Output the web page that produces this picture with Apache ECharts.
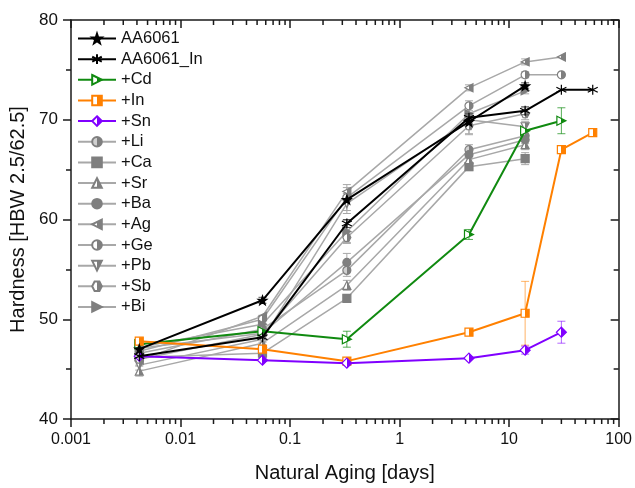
<!DOCTYPE html>
<html><head><meta charset="utf-8">
<script src="https://cdn.jsdelivr.net/npm/echarts@6/dist/echarts.min.js"></script>
<style>html,body{margin:0;padding:0;background:#fff}#c{width:635px;height:488px}</style>
</head><body><div id="c"></div>
<script>
// ---- data ----
const days = [0.0042, 0.056, 0.33, 4.3, 14, 30, 58];
const seriesNames = ['AA6061','AA6061_In','+Cd','+In','+Sn','+Li','+Ca','+Sr','+Ba','+Ag','+Ge','+Pb','+Sb','+Bi'];
const vAA6061   = [47.0, 51.9, 62.0, 69.8, 73.4, null, null];
const vAA6061In = [46.3, 48.2, 59.6, 70.2, 70.9, 73.0, 73.0];
const vCd = [47.5, 48.8, 48.0, 58.5, 68.9, 69.9, null];
const vIn = [47.8, 47.0, 45.8, 48.7, 50.6, 67.0, 68.7];
const vSn = [46.3, 45.9, 45.6, 46.1, 46.9, 48.7, null];
const vLi = [46.6, 49.0, 54.9, 67.0, 68.4];
const vCa = [46.2, 46.6, 52.1, 65.3, 66.1];
const vSr = [44.8, 47.6, 53.4, 66.0, 67.5];
const vBa = [47.1, 48.6, 55.7, 66.5, 68.0];
const vAg = [45.9, 50.3, 62.8, 73.2, 75.8, 76.3];
const vGe = [46.8, 50.0, 62.2, 71.4, 74.5, 74.5];
const vPb = [45.4, 48.0, 61.6, 70.0, 69.3];
const vSb = [46.0, 48.5, 58.2, 69.4, 70.6];
const vBi = [47.2, 49.5, 58.8, 70.6, 72.9];
// error bar half-widths (0 = none)
const eAA6061   = [0, 0.3, 0, 0, 0.3];
const eAA6061In = [0, 0, 0.4, 0.4, 0.4, 0, 0];
const eCd = [0, 0, 0.8, 0.5, 0, 1.3];
const eIn = [0, 0, 0, 0, 3.2, 0, 0];
const eSn = [0, 0, 0, 0, 0.4, 1.1];
const eLi = [0.3, 0.4, 0.6, 0.5, 0.5];
const eCa = [0.3, 0.4, 0.3, 0.4, 0.6];
const eSr = [0.5, 0.4, 0.5, 0.4, 0.5];
const eBa = [0.4, 0.3, 0.9, 0.4, 0.4];
const eAg = [0, 0, 0.4, 0.3, 0.3, 0];
const eGe = [0, 0.4, 1.3, 0.5, 0.3, 0];
const ePb = [0.5, 0.3, 1.0, 1.4, 0.5];
const eSb = [0.6, 0.4, 0.6, 0.9, 0.6];
const eBi = [0, 0.5, 1.1, 1.0, 0.3];
const xTickLabels = ['0.001','0.01','0.1','1','10','100'];
const yTickLabels = ['40','50','60','70','80'];

// ---- styles ----
const STAR = 'path://M0,-10L2.35,-3.24L9.51,-3.09L3.8,1.24L5.88,8.09L0,4L-5.88,8.09L-3.8,1.24L-9.51,-3.09L-2.35,-3.24Z';
const ASTER = 'path://M0,-10L0,10M-8.66,-5L8.66,5M-8.66,5L8.66,-5M-8.66,-5Z';
const RTRI = 'path://M0,0L10,5L0,10Z';
const LTRI = 'path://M10,0L0,5L10,10Z';
const DTRI = 'path://M0,0L10,0L5,10Z';
const HEX = 'path://M2.5,0L7.5,0L10,5L7.5,10L2.5,10L0,5Z';
function half(left, right){
  return {type:'linear', x:0, y:0, x2:1, y2:0, colorStops:[
    {offset:0, color:left},{offset:0.5, color:left},{offset:0.5, color:right},{offset:1, color:right}]};
}
const G = '#7f7f7f', GL = '#a8a8a8';
const GREEN = '#108a10', ORANGE = '#ff8000', PURPLE = '#8000ff';
const styles = {
  'AA6061':   {line:'#000', lw:2, sym:STAR, fill:'#000', border:'#000', size:9, z:6, err:'#555'},
  'AA6061_In':{line:'#000', lw:2, sym:ASTER, fill:'transparent', border:'#000', size:10, z:6, err:'#555'},
  '+Cd': {line:GREEN, lw:2, sym:RTRI, fill:half('#fff',GREEN), border:GREEN, size:9, z:5, err:'rgba(16,138,16,0.7)'},
  '+In': {line:ORANGE, lw:2, sym:'rect', fill:half('#fff',ORANGE), border:ORANGE, size:8, z:5, err:'rgba(255,128,0,0.6)'},
  '+Sn': {line:PURPLE, lw:2, sym:'diamond', fill:half('#fff',PURPLE), border:PURPLE, size:10, z:5, err:'rgba(128,0,255,0.6)'},
  '+Li': {line:GL, lw:1.5, sym:'circle', fill:half('#d0d0d0',G), border:G, size:8, z:3, err:GL},
  '+Ca': {line:GL, lw:1.5, sym:'rect', fill:G, border:G, size:8, z:3, err:GL},
  '+Sr': {line:GL, lw:1.5, sym:'triangle', fill:half('#fff',G), border:G, size:8, z:3, err:GL},
  '+Ba': {line:GL, lw:1.5, sym:'circle', fill:G, border:G, size:8, z:3, err:GL},
  '+Ag': {line:GL, lw:1.5, sym:LTRI, fill:half('#fff',G), border:G, size:8, z:3, err:GL},
  '+Ge': {line:GL, lw:1.5, sym:'circle', fill:half('#fff',G), border:G, size:8, z:3, err:GL},
  '+Pb': {line:GL, lw:1.5, sym:DTRI, fill:half('#fff',G), border:G, size:8, z:3, err:GL},
  '+Sb': {line:GL, lw:1.5, sym:HEX, fill:half('#fff',G), border:G, size:8, z:3, err:GL},
  '+Bi': {line:GL, lw:1.5, sym:RTRI, fill:G, border:G, size:8, z:3, err:GL}
};
const valuesOf = {'AA6061':vAA6061,'AA6061_In':vAA6061In,'+Cd':vCd,'+In':vIn,'+Sn':vSn,'+Li':vLi,'+Ca':vCa,'+Sr':vSr,'+Ba':vBa,'+Ag':vAg,'+Ge':vGe,'+Pb':vPb,'+Sb':vSb,'+Bi':vBi};
const errsOf = {'AA6061':eAA6061,'AA6061_In':eAA6061In,'+Cd':eCd,'+In':eIn,'+Sn':eSn,'+Li':eLi,'+Ca':eCa,'+Sr':eSr,'+Ba':eBa,'+Ag':eAg,'+Ge':eGe,'+Pb':ePb,'+Sb':eSb,'+Bi':eBi};

const FONT = 'Liberation Sans, Arial, sans-serif';
const AX = '#1a1a1a';

function errRender(color){
  return function(params, api){
    const x = api.value(0), lo = api.value(1), hi = api.value(2);
    const a = api.coord([x, lo]), b = api.coord([x, hi]);
    const w = 4, st = {stroke:color, lineWidth:1, fill:null};
    return {type:'group', children:[
      {type:'line', shape:{x1:a[0],y1:a[1],x2:b[0],y2:b[1]}, style:st},
      {type:'line', shape:{x1:a[0]-w,y1:a[1],x2:a[0]+w,y2:a[1]}, style:st},
      {type:'line', shape:{x1:b[0]-w,y1:b[1],x2:b[0]+w,y2:b[1]}, style:st}
    ]};
  };
}

const series = [];
seriesNames.forEach(function(n){
  const s = styles[n], vals = valuesOf[n], errs = errsOf[n];
  const data = [];
  vals.forEach(function(v,i){ if (v != null) data.push([days[i], v]); });
  series.push({
    name:n, type:'line', data:data, z:s.z, symbol:s.sym, symbolSize:s.size,
    showAllSymbol:true, animation:false,
    lineStyle:{color:s.line, width:s.lw},
    itemStyle:{color:s.fill, borderColor:s.border, borderWidth:1.2, opacity:1},
    emphasis:{disabled:true}
  });
  const ed = [];
  vals.forEach(function(v,i){ if (v != null && errs[i]) ed.push([days[i], v-errs[i], v+errs[i]]); });
  if (ed.length) series.push({
    type:'custom', data:ed, z:s.z-1, silent:true, animation:false,
    encode:{x:0, y:[1,2]}, renderItem:errRender(s.err)
  });
});

// minor ticks of the log axes (2..9 within each decade)
const minor = [];
for (let k = -3; k < 2; k++) for (let m = 2; m <= 9; m++) minor.push([m*Math.pow(10,k), 40]);
series.push({
  type:'custom', data:minor, silent:true, animation:false, clip:false, z:10,
  encode:{x:0, y:1},
  renderItem:function(params, api){
    const p = api.coord([api.value(0), 40]);
    const q = api.coord([api.value(0), 80]);
    const st = {stroke:AX, lineWidth:1.5};
    return {type:'group', children:[
      {type:'line', shape:{x1:p[0],y1:p[1],x2:p[0],y2:p[1]+5}, style:st},
      {type:'line', shape:{x1:q[0],y1:q[1],x2:q[0],y2:q[1]+5}, style:st}
    ]};
  }
});

function fmtX(v){
  const e = Math.round(Math.log10(v));
  return xTickLabels[e+3];
}
function fmtY(v){ return yTickLabels[Math.round((v-40)/10)]; }

const chart = echarts.init(document.getElementById('c'), null, {renderer:'canvas'});
chart.setOption({
  animation:false,
  backgroundColor:'#fff',
  grid:{left:71, right:14, top:20, bottom:62, containLabel:false},
  legend:{
    orient:'vertical', left:77, top:30, padding:0, itemWidth:38, itemHeight:12, itemGap:3.65,
    selectedMode:false, data:seriesNames,
    textStyle:{fontSize:16.5, fontFamily:FONT, color:'#111', lineHeight:16, padding:[0,0,0,0]}
  },
  xAxis:[
    {type:'log', logBase:10, min:0.001, max:100, position:'bottom',
     name:'Natural Aging [days]', nameLocation:'middle', nameGap:44,
     nameTextStyle:{fontSize:20, fontFamily:FONT, color:'#111'},
     axisLine:{show:true, onZero:false, lineStyle:{color:AX, width:1.5}},
     axisTick:{show:true, inside:false, length:8, lineStyle:{color:AX, width:1.5}},
     minorTick:{show:false}, splitLine:{show:false}, minorSplitLine:{show:false},
     axisLabel:{formatter:fmtX, fontSize:16, fontFamily:FONT, color:'#111', margin:13, showMinLabel:true, showMaxLabel:true}},
    {type:'log', logBase:10, min:0.001, max:100, position:'top',
     axisLine:{show:true, onZero:false, lineStyle:{color:AX, width:1.5}},
     axisTick:{show:true, inside:true, length:8, lineStyle:{color:AX, width:1.5}},
     axisLabel:{show:false}, splitLine:{show:false}}
  ],
  yAxis:[
    {type:'value', min:40, max:80, interval:10, position:'left',
     name:'Hardness [HBW 2.5/62.5]', nameLocation:'middle', nameGap:37, nameRotate:90,
     nameTextStyle:{fontSize:20, fontFamily:FONT, color:'#111'},
     axisLine:{show:true, onZero:false, lineStyle:{color:AX, width:1.5}},
     axisTick:{show:true, inside:false, length:8, lineStyle:{color:AX, width:1.5}},
     minorTick:{show:true, splitNumber:2, length:5, lineStyle:{color:AX, width:1.5}},
     splitLine:{show:false},
     axisLabel:{formatter:fmtY, fontSize:17, fontFamily:FONT, color:'#111', margin:13}},
    {type:'value', min:40, max:80, interval:10, position:'right',
     axisLine:{show:true, onZero:false, lineStyle:{color:AX, width:1.5}},
     axisTick:{show:true, inside:true, length:8, lineStyle:{color:AX, width:1.5}},
     minorTick:{show:true, splitNumber:2, length:5, lineStyle:{color:AX, width:1.5}},
     splitLine:{show:false}, axisLabel:{show:false}}
  ],
  series:series
});
</script></body></html>
